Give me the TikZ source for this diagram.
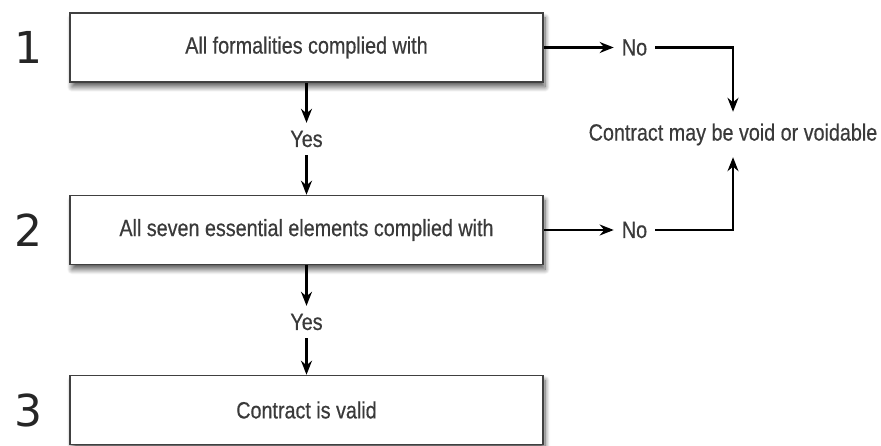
\documentclass[tikz,border=0pt]{standalone}
\usepackage{fontspec}
\setmainfont{Liberation Sans}[FakeStretch=0.84,FakeBold=0.5]
\newfontfamily\numfont{DejaVu Sans}
\usetikzlibrary{shadows.blur,arrows.meta}
\definecolor{txtgray}{HTML}{3A3A3A}
\begin{document}
\begin{tikzpicture}[x=1pt,y=1pt]
\useasboundingbox (0,0) rectangle (881,-446);
\tikzstyle{stepbox} = [rectangle, draw=black!75, line width=1.6pt, fill=white, minimum width=473pt, minimum height=69pt, text=txtgray, font=\fontsize{23.5}{26}\selectfont, blur shadow={shadow xshift=2pt, shadow yshift=-5pt, shadow blur radius=5pt, shadow blur steps=10, shadow opacity=65}]
\tikzstyle{label} = [text=txtgray, inner sep=0pt, font=\fontsize{23.5}{26}\selectfont]
\tikzstyle{arrow} = [line width=2.2pt, ->, >={Stealth[length=14pt,width=11pt]}]
\node (box1) [stepbox] at (306.5,-47.5) {All formalities complied with};
\node (yes1) [label, below of=box1, minimum height=32pt, node distance=91.5pt] {Yes};
\node (box2) [stepbox, below of=yes1, node distance=91pt] {All seven essential elements complied with};
\node (yes2) [label, below of=box2, minimum height=32pt, node distance=92pt] {Yes};
\node (box3) [stepbox, below of=yes2, node distance=88pt] {Contract is valid};
\node (num1) [text=black!85, font=\numfont\fontsize{44}{44}\selectfont, left of=box1, node distance=278pt] {1};
\node (num2) [text=black!85, font=\numfont\fontsize{44}{44}\selectfont, left of=box2, node distance=278pt] {2};
\node (num3) [text=black!85, font=\numfont\fontsize{44}{44}\selectfont, left of=box3, node distance=278pt] {3};
\node (no1) [label, inner xsep=8pt, right of=box1, node distance=328pt] {No};
\node (no2) [label, inner xsep=8pt, right of=box2, node distance=328pt] {No};
\node (void) [label, minimum height=45pt] at (733,-134.5) {Contract may be void or voidable};
\draw [arrow] (box1) -- (no1);
\draw [arrow] (box2) -- (no2);
\draw [arrow] (box1) -- (yes1);
\draw [arrow] (yes1) -- (box2);
\draw [arrow] (box2) -- (yes2);
\draw [arrow] (yes2) -- (box3);
\draw [arrow] (no1) -| (void);
\draw [arrow] (no2) -| (void);
\end{tikzpicture}
\end{document}
